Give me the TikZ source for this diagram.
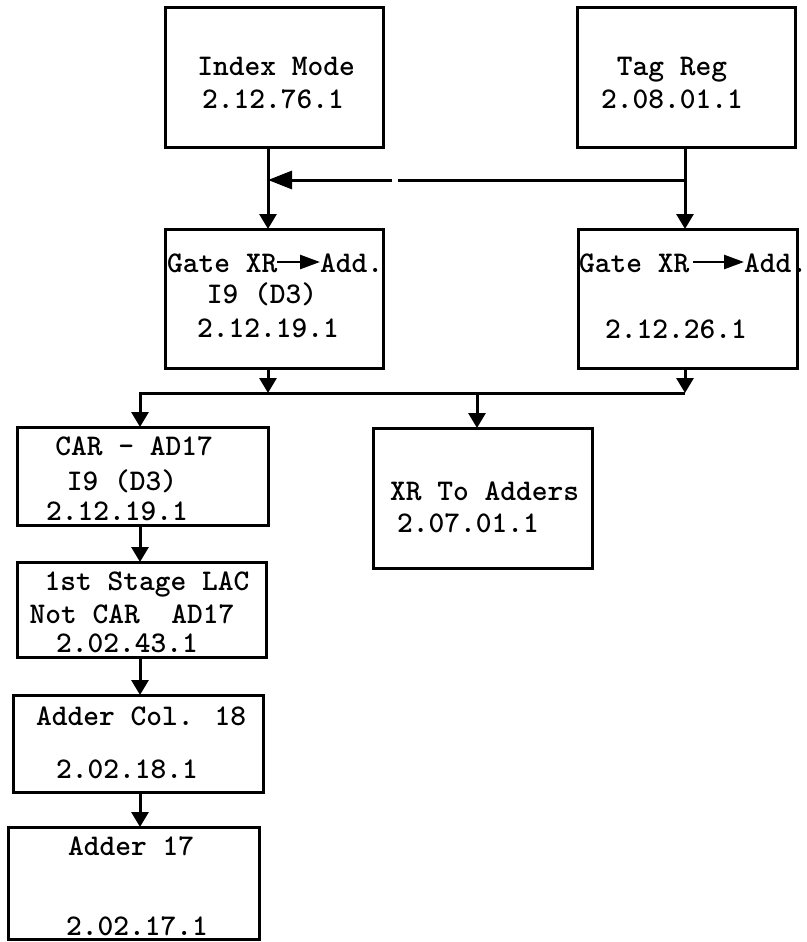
\documentclass[tikz,border=0pt]{standalone}
\usepackage{fontspec}
\usetikzlibrary{arrows.meta}
\newcommand\twfont{\ttfamily\bfseries\fontsize{30}{32}\selectfont}
\begin{document}
\begin{tikzpicture}[x=1pt,y=-1pt,
  box/.style={draw, line width=3pt, inner sep=0pt, outer sep=0pt, anchor=north west},
  txt/.style={inner sep=0pt, outer sep=0pt, anchor=base, font=\twfont},
  txtw/.style={txt, anchor=base west},
  plain/.style={line width=3pt},
  conn/.style={line width=3pt, -{Triangle[length=15pt,width=17pt]}},
  bigconn/.style={line width=3pt, -{Triangle[length=24pt,width=18pt]}},
  garrow/.style={line width=2.5pt, -{Triangle[length=20pt,width=14pt]}}]
\useasboundingbox (0,0) rectangle (806,942);

% boxes
\node[box, minimum width=218pt, minimum height=139pt] (IM)  at (165,8) {};
\node[box, minimum width=218pt, minimum height=139pt] (TR)  at (577,8) {};
\node[box, minimum width=218pt, minimum height=139pt] (GL)  at (165,229) {};
\node[box, minimum width=219pt, minimum height=139pt] (GR)  at (578,229) {};
\node[box, minimum width=251pt, minimum height=98pt]  (CAR) at (17,427) {};
\node[box, minimum width=249pt, minimum height=95pt]  (ST)  at (17,562) {};
\node[box, minimum width=250pt, minimum height=97pt]  (AC)  at (13,695) {};
\node[box, minimum width=251pt, minimum height=112pt] (A17) at (8,827) {};
\node[box, minimum width=219pt, minimum height=140pt] (XR)  at (373,428) {};

% texts
\node[txt] (im1) at (276,76) {Index Mode};
\node[txt] (im2) at (273,108) {2.12.76.1};
\node[txt] (tr1) at (672,76) {Tag Reg};
\node[txt] (tr2) at (672,108) {2.08.01.1};
\node[txtw] (gl1a) at (167,272) {Gate XR};
\node[txtw] (gl1b) at (320,272) {Add.};
\node[txt] (gl2) at (262,303) {I9 (D3)};
\node[txt] (gl3) at (268,337) {2.12.19.1};
\node[txtw] (gr1a) at (579,272) {Gate XR};
\node[txtw] (gr1b) at (744,272) {Add.};
\node[txt] (gr3) at (676,338) {2.12.26.1};
\node[txt] (car1) at (134,455) {CAR - AD17};
\node[txt] (car2) at (122,490) {I9 (D3)};
\node[txt] (car3) at (117,520) {2.12.19.1};
\node[txt] (st1) at (147,590) {1st Stage LAC};
\node[txt] (st2) at (132,623) {Not CAR\ \ AD17};
\node[txt] (st3) at (127,652) {2.02.43.1};
\node[txt] (ac1) at (141,725) {Adder Col. 18};
\node[txt] (ac2) at (127,778) {2.02.18.1};
\node[txt] (a171) at (131,855) {Adder 17};
\node[txt] (a172) at (137,935) {2.02.17.1};
\node[txtw] (xr1) at (390,500) {XR To Adders};
\node[txtw] (xr2) at (397,532) {2.07.01.1};

% arrows inside the gate labels
\draw[garrow] ([yshift=10pt]gl1a.base east) -- ([yshift=10pt]gl1b.base west);
\draw[garrow] ([xshift=4pt,yshift=10pt]gr1a.base east) -- ([yshift=10pt]gr1b.base west);

% junction coordinates
\coordinate (jL) at (268,180);
\coordinate (jR) at (685,180);
\coordinate (gapL) at (392,180);
\coordinate (gapR) at (398,180);
\coordinate (bL) at (140,393);
\coordinate (bR) at (685,393);
\coordinate (bGL) at (268,393);
\coordinate (bXR) at (477,393);
\coordinate (cx) at (140,0);

% top connections
\draw[plain] (TR.south -| jR) -- (jR);
\draw[conn] (jR) -- (GR.north -| jR);
\draw[plain] (IM.south -| jL) -- (jL);
\draw[conn] (jL) -- (GL.north -| jL);
\draw[plain] (jR) -- (gapR);
\draw[bigconn] (gapL) -- (jL);

% bus
\draw[conn] (GL.south -| bGL) -- (bGL);
\draw[conn] (GR.south -| bR) -- (bR);
\draw[conn] (bR) -- (bL) -- (CAR.north -| bL);
\draw[conn] (bXR) -- (XR.north -| bXR);

% left column
\draw[conn] (CAR.south -| cx) -- (ST.north -| cx);
\draw[conn] (ST.south -| cx) -- (AC.north -| cx);
\draw[conn] (AC.south -| cx) -- (A17.north -| cx);
\end{tikzpicture}
\end{document}
